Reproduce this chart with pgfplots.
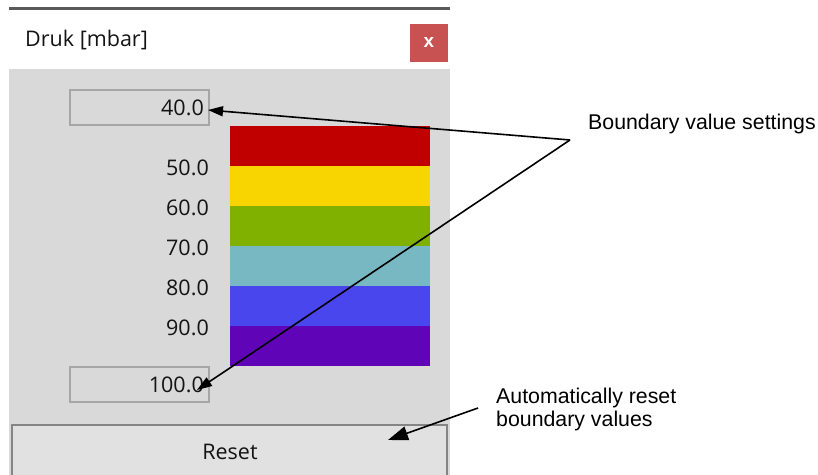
\documentclass[border=0pt]{standalone}
\usepackage{fontspec}
\setmainfont{Open Sans}
\newfontfamily\arialfont{Liberation Sans}
\usepackage{pgfplots}
\pgfplotsset{compat=1.18}
\usetikzlibrary{arrows.meta}

\definecolor{panel}{HTML}{D9D9D9}
\definecolor{edge}{HTML}{A6A6A6}
\definecolor{btnedge}{HTML}{858585}
\definecolor{btnfill}{HTML}{E1E1E1}
\definecolor{topline}{HTML}{5A5A5A}
\definecolor{closered}{HTML}{C85252}
\definecolor{uitext}{HTML}{141414}
\definecolor{cRed}{HTML}{C00000}
\definecolor{cYellow}{HTML}{F8D400}
\definecolor{cGreen}{HTML}{80B000}
\definecolor{cTeal}{HTML}{78B8C2}
\definecolor{cBlue}{HTML}{4A46EE}
\definecolor{cPurple}{HTML}{6004B8}

\newcommand\uifont{\fontsize{21.6}{26}\selectfont}
\newcommand\notefont{\arialfont\fontsize{21.4}{24}\selectfont}

\begin{document}
\begin{tikzpicture}
  \path[use as bounding box] (0,0) rectangle (818bp,-475bp);

  \begin{scope}[x=1bp,y=-1bp]
    % window
    \fill[panel] (9,69) rectangle (450,475);
    \draw[topline, line width=2bp] (9,8.5) -- (450,8.5);
    \node[anchor=west, inner sep=0, text=uitext, font=\uifont] at (25,40) {Druk [mbar]};
    \fill[closered] (410,24) rectangle (448,62);
    \node[text=white, font=\arialfont\bfseries\fontsize{19}{20}\selectfont] at (429,42) {x};

    % boundary boxes
    \filldraw[fill=panel, draw=edge, line width=1.4bp] (70,90) rectangle (209,125);
    \node[anchor=east, inner sep=0, text=uitext, font=\uifont] at (204,108) {40.0};
    \filldraw[fill=panel, draw=edge, line width=1.4bp] (70,367) rectangle (209,402);
    \node[anchor=east, inner sep=0, text=uitext, font=\uifont] at (204,385) {100.0};

    % reset button
    \filldraw[fill=btnfill, draw=btnedge, line width=2bp] (12,425) rectangle (447,482);
    \node[text=uitext, font=\uifont] at (230,452) {Reset};
  \end{scope}

  % colour scale, one stacked bar of 10 mbar bands from 40 to 100
  \begin{axis}[
      at={(230bp,-366bp)}, anchor=south west,
      scale only axis, width=200bp, height=240bp,
      xmin=-0.5, xmax=0.5, ymin=40, ymax=100,
      y dir=reverse,
      ybar stacked, bar width=200bp,
      axis line style={draw=none},
      tick style={draw=none}, major tick length=0pt,
      xtick=\empty,
      ytick={50,60,70,80,90},
      yticklabel={\pgfmathprintnumber[fixed,fixed zerofill,precision=1,assume math mode=true]{\tick}},
      yticklabel style={font=\uifont, text=uitext, inner sep=0pt, xshift=-21bp, yshift=-2bp},
    ]
    \addplot[draw=none, fill=none] coordinates {(0,40)};
    \addplot[draw=none, fill=cRed]    coordinates {(0,10)};
    \addplot[draw=none, fill=cYellow] coordinates {(0,10)};
    \addplot[draw=none, fill=cGreen]  coordinates {(0,10)};
    \addplot[draw=none, fill=cTeal]   coordinates {(0,10)};
    \addplot[draw=none, fill=cBlue]   coordinates {(0,10)};
    \addplot[draw=none, fill=cPurple] coordinates {(0,10)};
  \end{axis}

  \begin{scope}[x=1bp,y=-1bp]
    % annotations
    \draw[line width=1.6bp, -{Triangle[length=15bp,width=10bp]}] (570,140) -- (208,110);
    \draw[line width=1.6bp, -{Triangle[length=15bp,width=10bp]}] (570,140) -- (197,390);
    \draw[line width=1.6bp, -{Triangle[length=20bp,width=14bp]}] (478,408) -- (388,440);
    \node[anchor=west, inner sep=0, font=\notefont] at (588,124) {Boundary value settings};
    \node[anchor=west, inner sep=0, font=\notefont] at (496,398) {Automatically reset};
    \node[anchor=west, inner sep=0, font=\notefont] at (496,421) {boundary values};
  \end{scope}
\end{tikzpicture}
\end{document}
